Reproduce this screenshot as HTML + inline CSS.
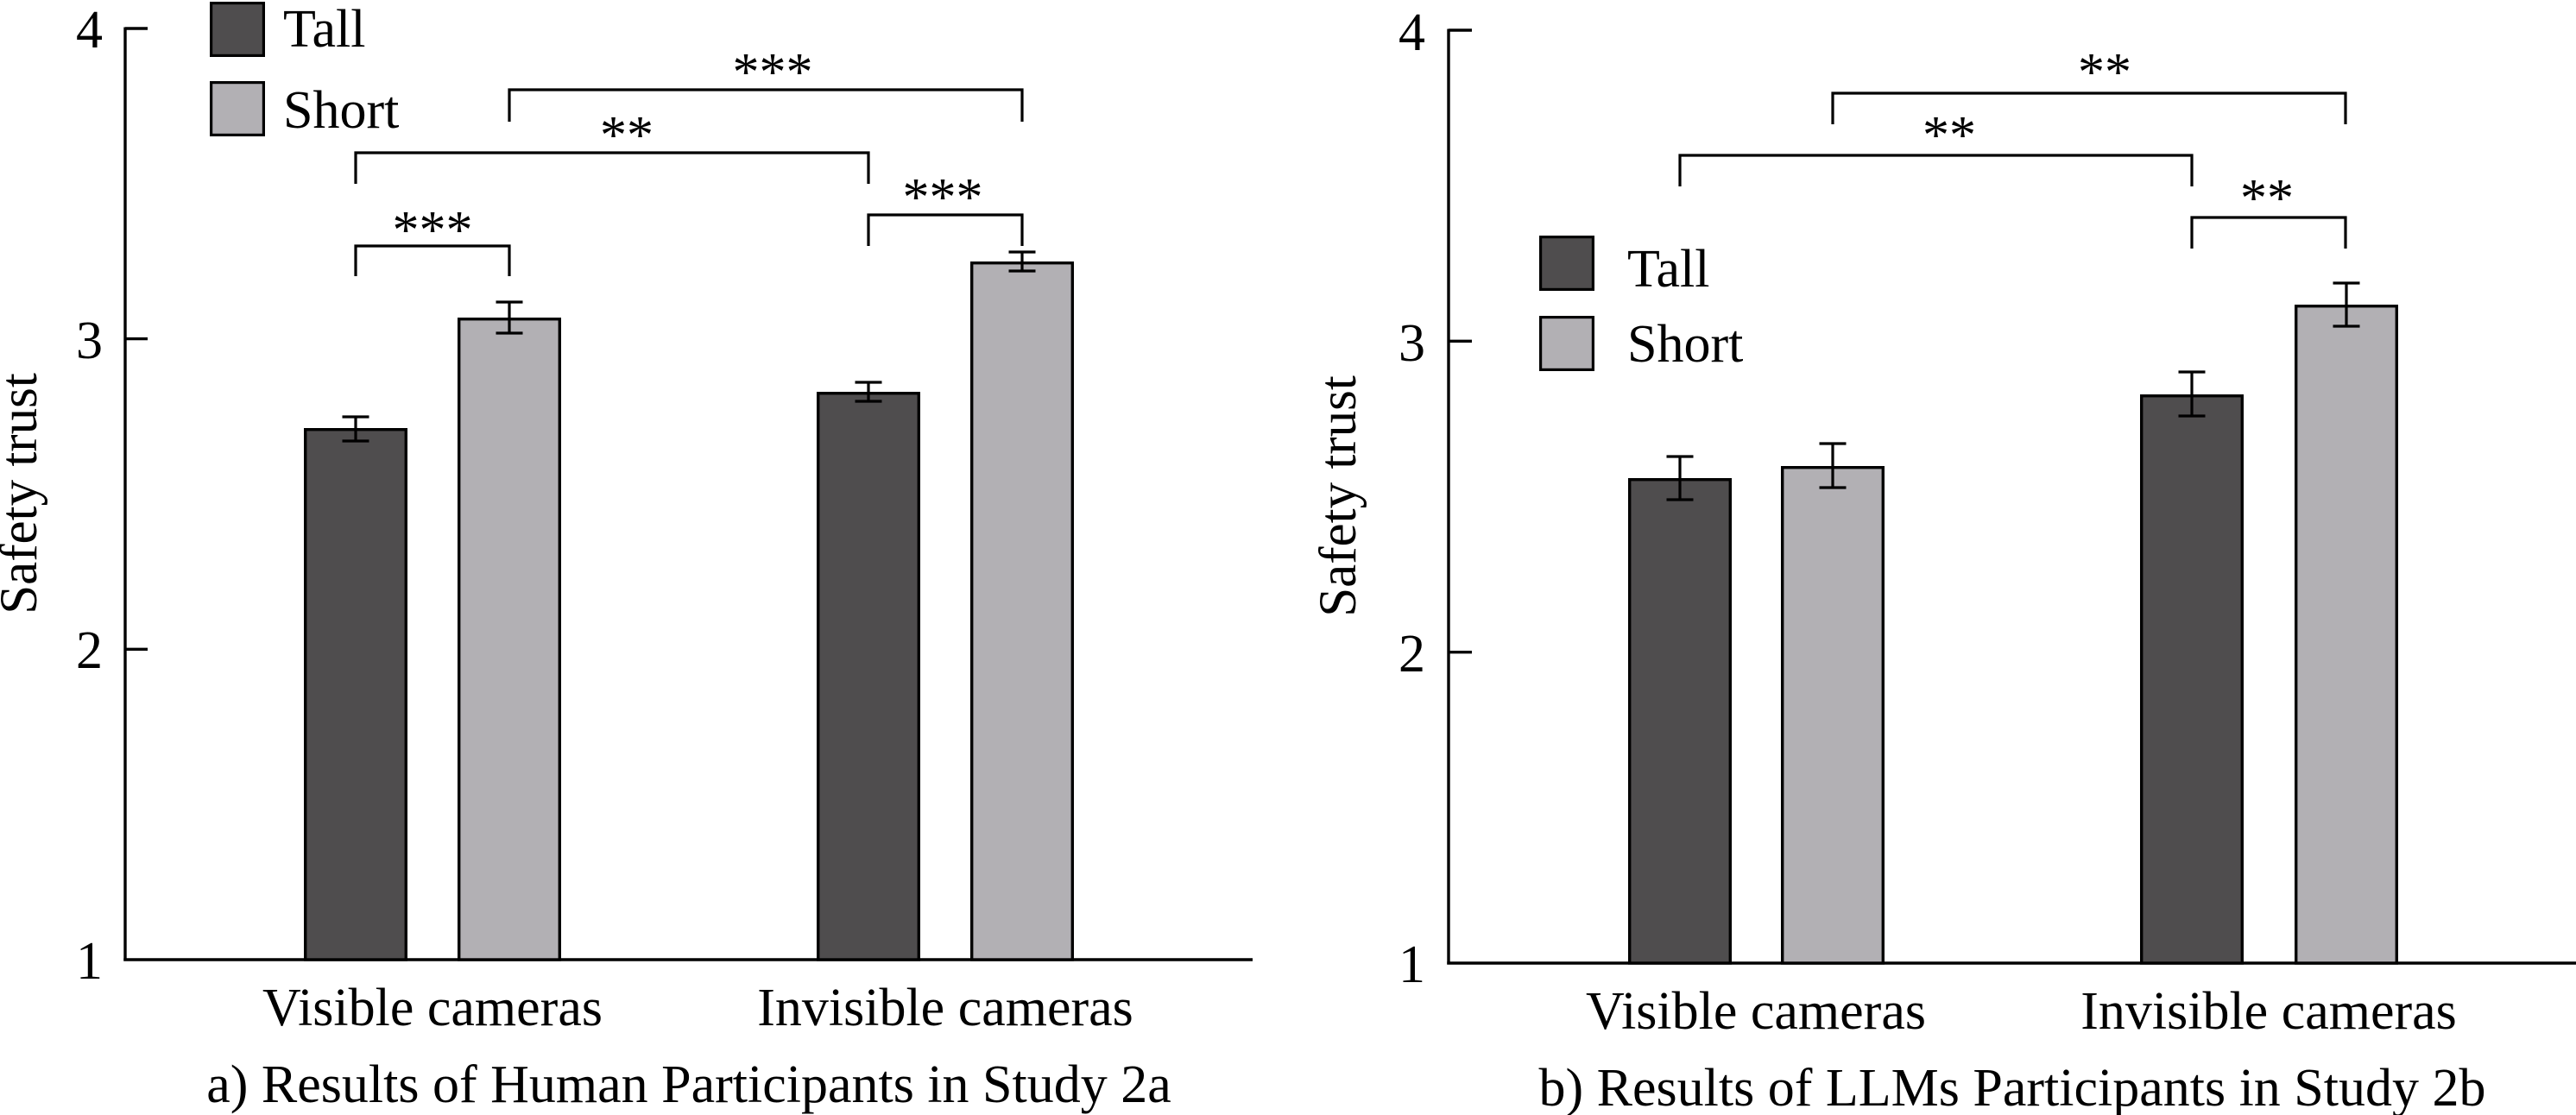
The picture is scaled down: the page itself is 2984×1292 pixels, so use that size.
<!DOCTYPE html>
<html>
<head>
<meta charset="utf-8">
<style>
  html, body { margin: 0; padding: 0; background: #ffffff; }
  svg { display: block; }
  text { font-family: "Liberation Serif", "Times New Roman", serif; fill: #000; }
</style>
</head>
<body>
<svg width="2984" height="1292" viewBox="0 0 2984 1292" xmlns="http://www.w3.org/2000/svg">
  <rect x="0" y="0" width="2984" height="1292" fill="#ffffff"/>

  <!-- ================= LEFT PANEL ================= -->
  <g stroke="#000" stroke-width="3.4" fill="none" stroke-linecap="butt">
    <line x1="145" y1="31.5" x2="145" y2="1113.5"/>
    <line x1="143.3" y1="1112" x2="1451" y2="1112"/>
    <line x1="145" y1="33" x2="171" y2="33"/>
    <line x1="145" y1="392.6" x2="171" y2="392.6"/>
    <line x1="145" y1="752.3" x2="171" y2="752.3"/>
  </g>
  <g font-size="62" text-anchor="end">
    <text x="119" y="55">4</text>
    <text x="119" y="415">3</text>
    <text x="119" y="774">2</text>
    <text x="119" y="1134">1</text>
  </g>
  <text font-size="61" text-anchor="middle" transform="translate(42,572) rotate(-90)">Safety trust</text>

  <!-- bars left -->
  <g stroke="#000" stroke-width="3.4">
    <rect x="353.7" y="497.7" width="116.6" height="614.3" fill="#4f4d4e"/>
    <rect x="531.7" y="369.7" width="116.6" height="742.3" fill="#b2b0b4"/>
    <rect x="947.7" y="455.7" width="116.6" height="656.3" fill="#4f4d4e"/>
    <rect x="1125.7" y="304.7" width="116.6" height="807.3" fill="#b2b0b4"/>
  </g>
  <!-- error bars left -->
  <g stroke="#000" stroke-width="3.2" fill="none">
    <line x1="412" y1="483" x2="412" y2="511"/><line x1="396.5" y1="483" x2="427.5" y2="483"/><line x1="396.5" y1="511" x2="427.5" y2="511"/>
    <line x1="590" y1="350" x2="590" y2="386"/><line x1="574.5" y1="350" x2="605.5" y2="350"/><line x1="574.5" y1="386" x2="605.5" y2="386"/>
    <line x1="1006" y1="443" x2="1006" y2="465"/><line x1="990.5" y1="443" x2="1021.5" y2="443"/><line x1="990.5" y1="465" x2="1021.5" y2="465"/>
    <line x1="1184" y1="292" x2="1184" y2="314"/><line x1="1168.5" y1="292" x2="1199.5" y2="292"/><line x1="1168.5" y1="314" x2="1199.5" y2="314"/>
  </g>
  <!-- brackets left -->
  <g stroke="#000" stroke-width="3.2" fill="none" stroke-linejoin="miter">
    <polyline points="412,320 412,285 590,285 590,320"/>
    <polyline points="412,213 412,177 1006,177 1006,213"/>
    <polyline points="590,141 590,104 1184,104 1184,141"/>
    <polyline points="1006,285 1006,249 1184,249 1184,285"/>
  </g>
  <g font-size="62" text-anchor="middle">
    <text x="501" y="287">***</text>
    <text x="726" y="177">**</text>
    <text x="895" y="104">***</text>
    <text x="1092" y="249">***</text>
  </g>
  <!-- legend left -->
  <g stroke="#000" stroke-width="3.2">
    <rect x="244.6" y="3.6" width="60.8" height="60.8" fill="#4f4d4e"/>
    <rect x="244.6" y="95.6" width="60.8" height="60.8" fill="#b2b0b4"/>
  </g>
  <g font-size="62">
    <text x="328" y="54">Tall</text>
    <text x="328" y="148">Short</text>
  </g>
  <!-- x labels left -->
  <g font-size="62" text-anchor="middle">
    <text x="501" y="1188">Visible cameras</text>
    <text x="1095" y="1188">Invisible cameras</text>
    <text x="798" y="1277">a) Results of Human Participants in Study 2a</text>
  </g>

  <!-- ================= RIGHT PANEL ================= -->
  <g stroke="#000" stroke-width="3.4" fill="none" stroke-linecap="butt">
    <line x1="1678" y1="33.5" x2="1678" y2="1117.5"/>
    <line x1="1676.3" y1="1116" x2="2984" y2="1116"/>
    <line x1="1678" y1="35" x2="1705" y2="35"/>
    <line x1="1678" y1="395.3" x2="1705" y2="395.3"/>
    <line x1="1678" y1="755.7" x2="1705" y2="755.7"/>
  </g>
  <g font-size="62" text-anchor="end">
    <text x="1651" y="58">4</text>
    <text x="1651" y="418">3</text>
    <text x="1651" y="778">2</text>
    <text x="1651" y="1138">1</text>
  </g>
  <text font-size="61" text-anchor="middle" transform="translate(1570,575) rotate(-90)">Safety trust</text>

  <!-- bars right -->
  <g stroke="#000" stroke-width="3.4">
    <rect x="1887.7" y="555.7" width="116.6" height="560.3" fill="#4f4d4e"/>
    <rect x="2064.7" y="541.7" width="116.6" height="574.3" fill="#b2b0b4"/>
    <rect x="2480.7" y="458.7" width="116.6" height="657.3" fill="#4f4d4e"/>
    <rect x="2659.7" y="354.7" width="116.6" height="761.3" fill="#b2b0b4"/>
  </g>
  <!-- error bars right -->
  <g stroke="#000" stroke-width="3.2" fill="none">
    <line x1="1946" y1="529" x2="1946" y2="579"/><line x1="1930.5" y1="529" x2="1961.5" y2="529"/><line x1="1930.5" y1="579" x2="1961.5" y2="579"/>
    <line x1="2123" y1="514" x2="2123" y2="565"/><line x1="2107.5" y1="514" x2="2138.5" y2="514"/><line x1="2107.5" y1="565" x2="2138.5" y2="565"/>
    <line x1="2539" y1="431" x2="2539" y2="482"/><line x1="2523.5" y1="431" x2="2554.5" y2="431"/><line x1="2523.5" y1="482" x2="2554.5" y2="482"/>
    <line x1="2718" y1="328" x2="2718" y2="378"/><line x1="2702.5" y1="328" x2="2733.5" y2="328"/><line x1="2702.5" y1="378" x2="2733.5" y2="378"/>
  </g>
  <!-- brackets right -->
  <g stroke="#000" stroke-width="3.2" fill="none" stroke-linejoin="miter">
    <polyline points="2123,144 2123,108 2717,108 2717,144"/>
    <polyline points="1946,216 1946,180 2539,180 2539,216"/>
    <polyline points="2539,288 2539,252 2717,252 2717,288"/>
  </g>
  <g font-size="62" text-anchor="middle">
    <text x="2438" y="104">**</text>
    <text x="2258" y="177">**</text>
    <text x="2626" y="250">**</text>
  </g>
  <!-- legend right -->
  <g stroke="#000" stroke-width="3.2">
    <rect x="1784.6" y="274.6" width="60.8" height="60.8" fill="#4f4d4e"/>
    <rect x="1784.6" y="367.6" width="60.8" height="60.8" fill="#b2b0b4"/>
  </g>
  <g font-size="62">
    <text x="1885" y="332">Tall</text>
    <text x="1885" y="419">Short</text>
  </g>
  <!-- x labels right -->
  <g font-size="62" text-anchor="middle">
    <text x="2034" y="1192">Visible cameras</text>
    <text x="2628" y="1192">Invisible cameras</text>
    <text x="2331" y="1281">b) Results of LLMs Participants in Study 2b</text>
  </g>
</svg>
</body>
</html>
